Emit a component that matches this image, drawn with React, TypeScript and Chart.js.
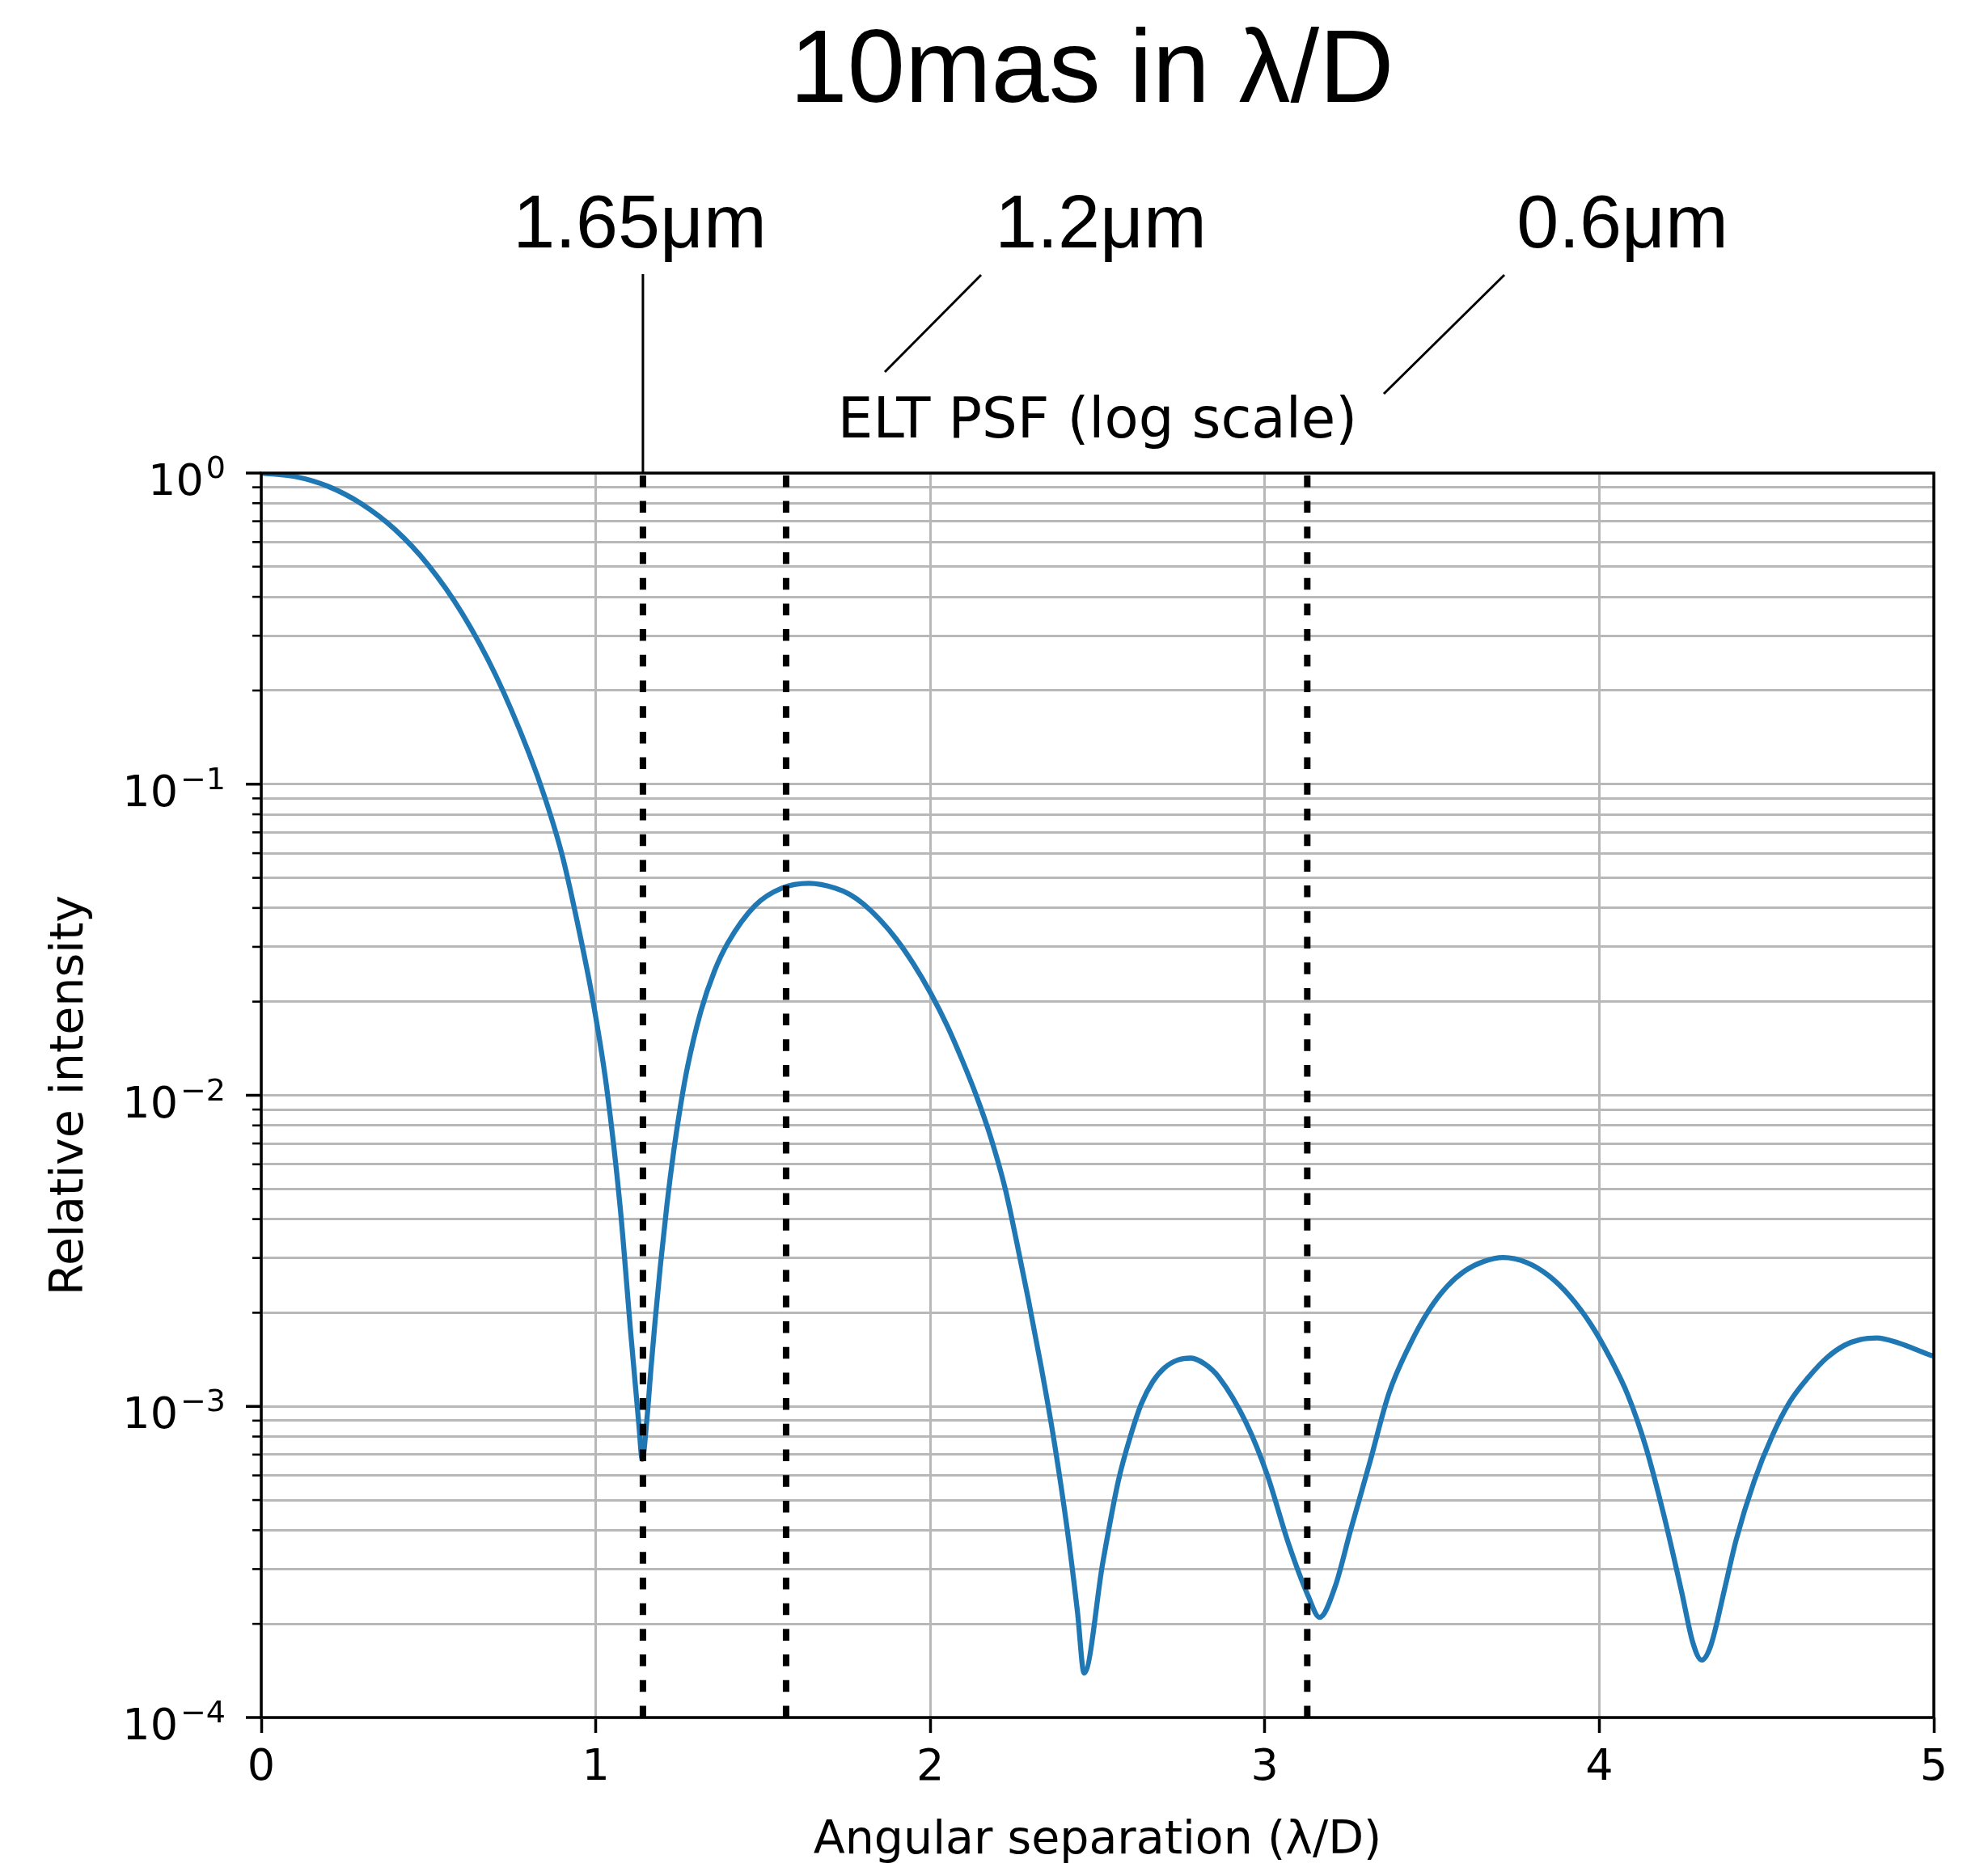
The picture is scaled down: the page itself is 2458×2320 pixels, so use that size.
import React, { useEffect, useRef } from 'react';
import { Chart, registerables } from 'chart.js';

Chart.register(...registerables);

// ---- data ----
const SEPARATION = [
  0, 0.1, 0.2, 0.3, 0.4, 0.5, 0.6, 0.7, 0.8, 0.85, 0.9, 0.95, 0.992, 1.032, 1.073, 1.105, 1.129, 1.139,
  1.153, 1.165, 1.177, 1.193, 1.213, 1.233, 1.254, 1.274, 1.314, 1.355, 1.395, 1.476, 1.556, 1.637, 1.717, 1.76, 1.8, 1.85, 1.9, 1.95,
  2.0, 2.051, 2.095, 2.138, 2.181, 2.224, 2.258, 2.293, 2.331, 2.37, 2.41, 2.44, 2.46,
  2.516, 2.562, 2.6, 2.631, 2.665, 2.7, 2.74, 2.779, 2.82, 2.863, 2.944, 3.007, 3.071, 3.129, 3.164,
  3.21, 3.256, 3.314, 3.371, 3.43, 3.491, 3.545, 3.599, 3.653, 3.713, 3.783, 3.847, 3.912, 3.977,
  4.031, 4.085, 4.139, 4.193, 4.247, 4.279, 4.306, 4.333, 4.376, 4.409, 4.463, 4.517, 4.571, 4.625, 4.679, 4.732, 4.78, 4.83, 4.894, 4.991, 5.0,
];
const INTENSITY = [
  1.0, 0.975, 0.906, 0.796, 0.658, 0.505, 0.355, 0.225, 0.126, 0.0891, 0.0589, 0.0339, 0.02, 0.0107, 0.00437, 0.0017, 0.000871, 0.000676,
  0.000912, 0.00132, 0.00186, 0.00282, 0.00447, 0.00661, 0.00933, 0.0123, 0.0186, 0.0251, 0.0309, 0.0407, 0.0463, 0.048, 0.0463, 0.0442, 0.0412, 0.0366, 0.0316, 0.0264,
  0.0214, 0.0167, 0.013, 0.00995, 0.00731, 0.00501, 0.00339, 0.00221, 0.00135, 0.000776, 0.000398, 0.000219, 0.000139,
  0.000316, 0.000575, 0.000813, 0.00102, 0.0012, 0.00133, 0.00141, 0.00143, 0.00137, 0.00124, 0.000887, 0.000604, 0.000362, 0.000247, 0.00021,
  0.000263, 0.000398, 0.000661, 0.0011, 0.00155, 0.00204, 0.00243, 0.00273, 0.00292, 0.00301, 0.0029, 0.00264, 0.00226, 0.00182,
  0.00144, 0.00109, 0.000741, 0.000447, 0.000251, 0.000175, 0.000153, 0.00017, 0.000263, 0.000372, 0.000575, 0.000804, 0.00104, 0.00124, 0.00143, 0.00157, 0.00164, 0.00166, 0.0016, 0.00146, 0.00145,
];

// 10 mas expressed in lambda/D at each wavelength
const MARKER_X = [1.141, 1.569, 3.127];
const MARKER_LABELS = ['1.65μm', '1.2μm', '0.6μm'];

const X_TICKS = [0, 1, 2, 3, 4, 5];
const Y_DECADES = [1e-4, 1e-3, 1e-2, 1e-1, 1];
const Y_DECADE_EXPONENTS = ['−4', '−3', '−2', '−1', '0'];
const Y_MINOR_FACTORS = [2, 3, 4, 5, 6, 7, 8, 9];

const TITLE = '10mas in λ/D';
const AXES_TITLE = 'ELT PSF (log scale)';
const X_LABEL = 'Angular separation (λ/D)';
const Y_LABEL = 'Relative intensity';

// ---- layout / style ----
const W = 2458;
const H = 2320;
const AREA = { left: 323, right: 2391, top: 585, bottom: 2124 };
const GRID = '#b8b8b8';
const DEJAVU = '"DejaVu Sans", sans-serif';
const HELV = '"Liberation Sans", Arial, sans-serif';
const LABEL_POS = [
  { cx: 791, base: 306 },
  { cx: 1361, base: 306 },
  { cx: 2006, base: 306 },
];
const CONNECTORS = [
  null, // vertical, derived from the x scale
  { x1: 1213, y1: 340, x2: 1094, y2: 460 },
  { x1: 1860, y1: 340, x2: 1711, y2: 487 },
];

const decor = {
  id: 'decor',
  afterDatasetsDraw(chart: any) {
    const { ctx, chartArea: a, scales } = chart;
    const y = scales.y;
    ctx.save();
    ctx.strokeStyle = '#000';
    ctx.lineCap = 'butt';
    // y tick marks (major / minor)
    y.ticks.forEach((t: any) => {
      const py = y.getPixelForValue(t.value);
      ctx.lineWidth = t.major ? 3.5 : 2.6;
      ctx.beginPath();
      ctx.moveTo(a.left - (t.major ? 19 : 11), py);
      ctx.lineTo(a.left, py);
      ctx.stroke();
    });
    // frame
    ctx.lineWidth = 3.5;
    ctx.strokeRect(a.left, a.top, a.right - a.left, a.bottom - a.top);
    ctx.restore();
  },
  afterDraw(chart: any) {
    const { ctx, chartArea: a, scales } = chart;
    const x = scales.x;
    const y = scales.y;
    ctx.save();
    ctx.fillStyle = '#000';
    ctx.textBaseline = 'alphabetic';

    // y tick labels 10^k
    const right = 279;
    Y_DECADES.forEach((v, i) => {
      const py = y.getPixelForValue(v);
      const exp = Y_DECADE_EXPONENTS[i];
      ctx.font = `54px ${DEJAVU}`;
      const bw = ctx.measureText('10').width;
      ctx.font = `38px ${DEJAVU}`;
      const ew = ctx.measureText(exp).width;
      const x0 = right - ew - 3 - bw;
      ctx.textAlign = 'left';
      ctx.font = `54px ${DEJAVU}`;
      ctx.fillText('10', x0, py + 27);
      ctx.font = `38px ${DEJAVU}`;
      ctx.fillText(exp, x0 + bw + 3, py + 6);
    });

    // suptitle
    ctx.textAlign = 'center';
    ctx.font = `128px ${HELV}`;
    ctx.fillText(TITLE, 1350, 126);

    // axes title
    ctx.font = `69px ${DEJAVU}`;
    ctx.fillText(AXES_TITLE, (a.left + a.right) / 2, 541);

    // wavelength labels
    ctx.font = `93.5px ${HELV}`;
    MARKER_LABELS.forEach((lab, i) => {
      ctx.fillText(lab, LABEL_POS[i].cx, LABEL_POS[i].base);
    });

    // connectors
    ctx.strokeStyle = '#000';
    ctx.lineWidth = 3;
    const px = x.getPixelForValue(MARKER_X[0]);
    ctx.beginPath();
    ctx.moveTo(px, 339);
    ctx.lineTo(px, a.top);
    ctx.stroke();
    CONNECTORS.forEach((c) => {
      if (!c) return;
      ctx.beginPath();
      ctx.moveTo(c.x1, c.y1);
      ctx.lineTo(c.x2, c.y2);
      ctx.stroke();
    });
    ctx.restore();
  },
};

export default function App() {
  const ref = useRef<HTMLCanvasElement | null>(null);

  useEffect(() => {
    document.body.style.margin = '0';
    const canvas = ref.current;
    if (!canvas) return;

    const markerSets = MARKER_X.map((mx) => ({
      data: [
        { x: mx, y: Y_DECADES[0] },
        { x: mx, y: Y_DECADES[Y_DECADES.length - 1] },
      ],
      borderColor: '#000',
      borderWidth: 8,
      borderDash: [14.5, 17.2],
      borderCapStyle: 'butt',
      pointRadius: 0,
      clip: 0,
      order: 1,
    }));

    const chart = new Chart(canvas, {
      type: 'line',
      data: {
        datasets: [
          ...markerSets,
          {
            data: SEPARATION.map((sx, i) => ({ x: sx, y: INTENSITY[i] })),
            borderColor: '#1f77b4',
            borderWidth: 6.3,
            pointRadius: 0,
            cubicInterpolationMode: 'monotone',
            order: 2,
          },
        ] as any,
      },
      options: {
        responsive: false,
        animation: false,
        devicePixelRatio: 1,
        events: [],
        layout: { padding: { left: 0, right: W - AREA.right, top: AREA.top, bottom: 0 } },
        plugins: {
          legend: { display: false },
          title: { display: false },
          tooltip: { enabled: false },
        },
        scales: {
          x: {
            type: 'linear',
            min: X_TICKS[0],
            max: X_TICKS[X_TICKS.length - 1],
            afterBuildTicks: (s: any) => {
              s.ticks = X_TICKS.map((v) => ({ value: v }));
            },
            afterFit: (s: any) => {
              s.height = H - AREA.bottom;
            },
            grid: {
              color: GRID,
              lineWidth: 3,
              drawTicks: true,
              tickLength: 19,
              tickColor: '#000',
              tickWidth: 3.5,
            },
            border: { display: false },
            ticks: {
              color: '#000',
              font: { family: DEJAVU, size: 54 },
              padding: 12,
              maxRotation: 0,
              autoSkip: false,
              callback: (v: any) => String(v),
            },
            title: {
              display: true,
              text: X_LABEL,
              color: '#000',
              font: { family: DEJAVU, size: 57 },
              padding: { top: 0, bottom: 9 },
            },
          },
          y: {
            type: 'logarithmic',
            min: Y_DECADES[0],
            max: Y_DECADES[Y_DECADES.length - 1],
            afterBuildTicks: (s: any) => {
              const t: any[] = [];
              Y_DECADES.forEach((d, i) => {
                t.push({ value: d, major: true });
                if (i < Y_DECADES.length - 1) {
                  Y_MINOR_FACTORS.forEach((f) => t.push({ value: d * f, major: false }));
                }
              });
              s.ticks = t;
            },
            afterFit: (s: any) => {
              s.width = AREA.left;
            },
            grid: { color: GRID, lineWidth: 3, drawTicks: false },
            border: { display: false },
            ticks: { display: false },
            title: {
              display: true,
              text: Y_LABEL,
              color: '#000',
              font: { family: DEJAVU, size: 57 },
              padding: { top: 53, bottom: 0 },
            },
          },
        },
      } as any,
      plugins: [decor],
    });

    return () => chart.destroy();
  }, []);

  return (
    <div style={{ width: W, height: H }}>
      <canvas ref={ref} width={W} height={H} style={{ display: 'block', width: W, height: H }} />
    </div>
  );
}
